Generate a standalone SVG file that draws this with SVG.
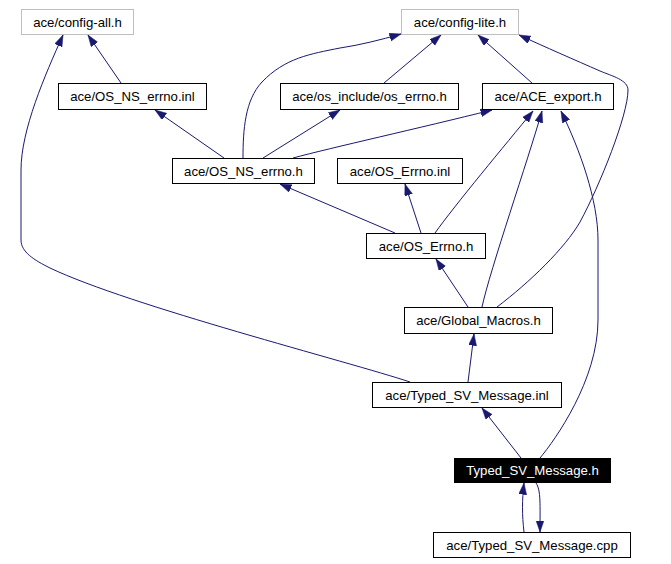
<svg xmlns="http://www.w3.org/2000/svg" width="671" height="564" viewBox="0 0 671 564">
<style>
.n rect{fill:#fff;stroke:#000;stroke-width:1}
.g rect{stroke:#bfbfbf}
.n text{font-family:"Liberation Sans",Arial,sans-serif;font-size:13.2px;text-anchor:middle;fill:#000}
.hl rect{fill:#000}
.hl text{fill:#fff}
.e path{fill:none;stroke:#191970;stroke-width:1;marker-end:url(#a)}
</style>
<defs>
<marker id="a" markerUnits="userSpaceOnUse" markerWidth="13" markerHeight="9" refX="11.5" refY="4" orient="auto">
<path d="M0,0 L11.5,4 L0,8 z" fill="#191970" stroke="#191970" stroke-width="0.5"/>
</marker>
</defs>
<rect width="671" height="564" fill="#fff"/>
<g id="edges" class="e">
<path d="M410,382 C350,362 130,306 50,268 C34,260 21,252 21,240 L21,170 C21,130 45,75 63,35"/>
<path d="M121,83 L88,35"/>
<path d="M224,158 L155,110"/>
<path d="M243,158 C243,130 245,100 262,82 C285,58 310,54 340,48 C360,45 380,40 401,34"/>
<path d="M263,158 L340,110"/>
<path d="M293,158 C330,148 420,128 492,110"/>
<path d="M384,83 L441,35"/>
<path d="M532,83 L478,35"/>
<path d="M497,307 C530,282 565,248 580,222 C600,185 628,115 628,90 C628,80 612,76 600,71 C575,60 545,47 519,35"/>
<path d="M482,307 C490,270 528,160 542,111"/>
<path d="M435,233 C455,205 505,145 533,111"/>
<path d="M421,233 L405,184"/>
<path d="M395,233 L280,184"/>
<path d="M468,307 L436,259"/>
<path d="M468,382 L474,334"/>
<path d="M521,458 L482,408"/>
<path d="M540,458 C555,440 598,380 598,320 L598,240 C598,200 580,150 561,111"/>
<path d="M524,532 C522,515 522,500 524,483"/>
<path d="M536,483 C541,490 540,505 540,532"/>
</g>
<g id="config-all" class="n g"><rect x="21.5" y="9.5" width="112" height="25"/><text x="77.5" y="26.5">ace/config-all.h</text></g>
<g id="config-lite" class="n g"><rect x="401.5" y="9.5" width="117" height="25"/><text x="460" y="26.5">ace/config-lite.h</text></g>
<g id="OS_NS_errno_inl" class="n"><rect x="58.5" y="83.5" width="148" height="26"/><text x="132.5" y="101">ace/OS_NS_errno.inl</text></g>
<g id="os_errno_h" class="n"><rect x="280.5" y="83.5" width="178" height="26"/><text x="369.5" y="101">ace/os_include/os_errno.h</text></g>
<g id="ACE_export_h" class="n"><rect x="482.5" y="83.5" width="131" height="26"/><text x="548" y="101">ace/ACE_export.h</text></g>
<g id="OS_NS_errno_h" class="n"><rect x="172.5" y="158.5" width="142" height="25"/><text x="243.5" y="175.5">ace/OS_NS_errno.h</text></g>
<g id="OS_Errno_inl" class="n"><rect x="337.5" y="158.5" width="125" height="25"/><text x="400" y="175.5">ace/OS_Errno.inl</text></g>
<g id="OS_Errno_h" class="n"><rect x="366.5" y="233.5" width="119" height="25"/><text x="426" y="250.5">ace/OS_Errno.h</text></g>
<g id="Global_Macros_h" class="n"><rect x="404.5" y="307.5" width="148" height="26"/><text x="478.5" y="325">ace/Global_Macros.h</text></g>
<g id="Typed_SV_Message_inl" class="n"><rect x="372.5" y="382.5" width="189" height="25"/><text x="467" y="399.5">ace/Typed_SV_Message.inl</text></g>
<g id="Typed_SV_Message_h" class="n hl"><rect x="454.5" y="458.5" width="156" height="24"/><text x="532.5" y="475">Typed_SV_Message.h</text></g>
<g id="Typed_SV_Message_cpp" class="n"><rect x="433.5" y="532.5" width="197" height="25"/><text x="532" y="549.5">ace/Typed_SV_Message.cpp</text></g>
</svg>
